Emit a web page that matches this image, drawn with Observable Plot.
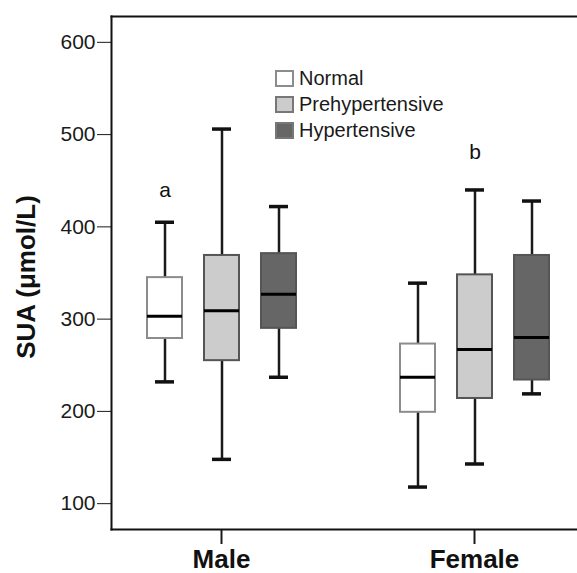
<!DOCTYPE html>
<html><head><meta charset="utf-8">
<script src="https://cdn.jsdelivr.net/npm/d3@7"></script>
<script src="https://cdn.jsdelivr.net/npm/@observablehq/plot@0.6"></script>
<style>
html,body{margin:0;padding:0;background:#fff;overflow:hidden;width:577px;height:573px;}
#wrap{position:relative;width:577px;height:573px;overflow:hidden;}
#chart{position:absolute;left:0;top:0;width:600px;}
#chart svg{max-width:none !important;}
#legend{position:absolute;left:275px;top:65px;font-family:"Liberation Sans",Arial,sans-serif;font-size:20px;color:#1a1a1a;}
.row{display:flex;align-items:center;height:26px;}
.sw{width:15px;height:13px;border:2px solid #7a7a7a;margin-right:5px;}
g[aria-label^="fx-axis"] text{font-size:26px;font-weight:bold;fill:#111;}
g[aria-label^="fx-axis"] line, g[aria-label^="fx-axis"] path{stroke-width:2;}
g[aria-label^="y-axis"] line{stroke-width:2;stroke:#333;}
</style></head><body>
<div id="wrap"><div id="chart"></div><div id="legend"></div></div>
<script>
// Data
const sexes = ["Male", "Female"];
const groups = ["Normal", "Prehypertensive", "Hypertensive"];
// order: Male N, P, H, Female N, P, H
const minVals    = [232, 148, 237, 118, 143, 219];
const q1Vals     = [279, 255, 290, 199, 214, 234];
const medianVals = [303, 309, 327, 237, 267, 280];
const q3Vals     = [345, 369, 371, 273, 348, 369];
const maxVals    = [405, 506, 422, 339, 440, 428];
const yTicks = [100, 200, 300, 400, 500, 600];
const yDomain = [72, 628];
const yLabel = "SUA (μmol/L)";
const letterText = ["a", "b"];
const letterSex = ["Male", "Female"];
const letterGroup = ["Normal", "Prehypertensive"];
const letterY = [440, 481];

const fills = ["#ffffff", "#cccccc", "#666666"];

const rows = sexes.flatMap((s, i) => groups.map((g, j) => {
  const k = i * groups.length + j;
  return {sex: s, group: g, min: minVals[k], q1: q1Vals[k], median: medianVals[k], q3: q3Vals[k], max: maxVals[k]};
}));
const letters = letterText.map((t, i) => ({label: t, sex: letterSex[i], group: letterGroup[i], y: letterY[i]}));

const chart = Plot.plot({
  width: 600, height: 573,
  marginTop: 16, marginBottom: 44, marginLeft: 111, marginRight: 15,
  style: {fontFamily: "Liberation Sans, Arial, sans-serif", fontSize: "21px", color: "#1a1a1a", background: "white", maxWidth: "none"},
  fx: {domain: sexes, paddingInner: 0.1294, paddingOuter: 0, axis: "bottom", tickSize: 15, tickPadding: 5, label: null},
  x: {domain: groups, paddingInner: 0.39, paddingOuter: 0.613, axis: null},
  y: {domain: yDomain, ticks: yTicks, tickSize: 14, tickPadding: 2, label: null},
  color: {domain: groups, range: fills},
  marks: [
    Plot.ruleX(rows, {fx: "sex", x: "group", y1: "q3", y2: "max", stroke: "#1a1a1a", strokeWidth: 2.5}),
    Plot.ruleX(rows, {fx: "sex", x: "group", y1: "min", y2: "q1", stroke: "#1a1a1a", strokeWidth: 2.5}),
    Plot.barY(rows, {filter: d => d.group === groups[0], fx: "sex", x: "group", y1: "q1", y2: "q3", fill: "group", stroke: "#8c8c8c", strokeWidth: 2}),
    Plot.barY(rows, {filter: d => d.group !== groups[0], fx: "sex", x: "group", y1: "q1", y2: "q3", fill: "group", stroke: "#555", strokeWidth: 2}),
    Plot.tickY(rows, {fx: "sex", x: "group", y: "median", stroke: "#000", strokeWidth: 3}),
    Plot.tickY(rows, {fx: "sex", x: "group", y: "max", inset: 8, stroke: "#111", strokeWidth: 3.5}),
    Plot.tickY(rows, {fx: "sex", x: "group", y: "min", inset: 8, stroke: "#111", strokeWidth: 3.5}),
    Plot.text(letters, {fx: "sex", x: "group", y: "y", text: "label", fontSize: 21, fill: "#111"}),
    // frame edges: top, bottom, left (the right edge lies outside the picture)
    Plot.frame({facet: "super", anchor: "top", stroke: "#111", strokeWidth: 2}),
    Plot.frame({facet: "super", anchor: "bottom", stroke: "#111", strokeWidth: 2}),
    Plot.frame({facet: "super", anchor: "left", stroke: "#111", strokeWidth: 2}),
    Plot.text([yLabel], {facet: "super", frameAnchor: "left", textAnchor: "middle", dx: -85, dy: 4, rotate: -90, fontSize: 26, fontWeight: "bold", fill: "#111", text: d => d})
  ]
});
document.getElementById("chart").appendChild(chart);

const legend = d3.select("#legend");
groups.forEach((g, i) => {
  const r = legend.append("div").attr("class", "row");
  r.append("div").attr("class", "sw").style("background", fills[i]).style("border-color", i === 0 ? "#8c8c8c" : "#777");
  r.append("span").text(g);
});
</script>
</body></html>
